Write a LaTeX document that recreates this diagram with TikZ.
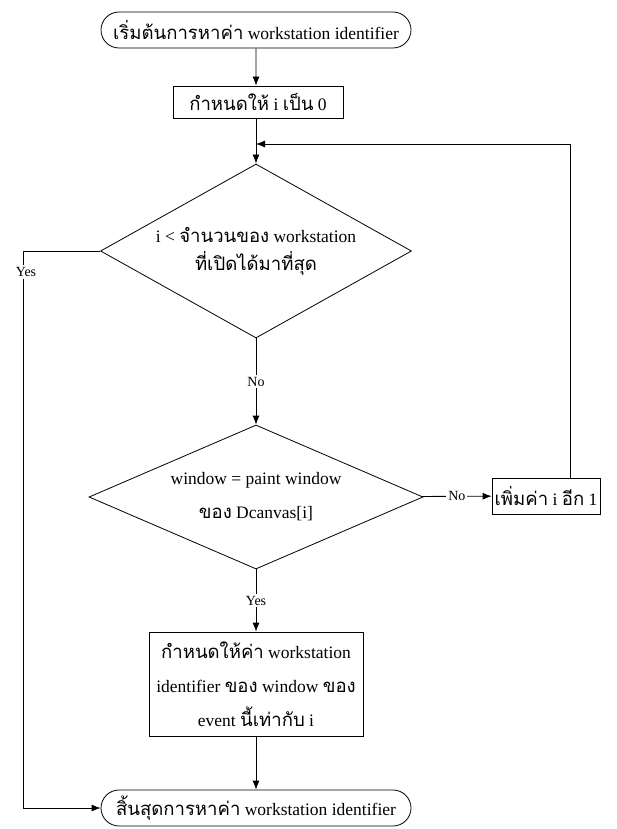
\documentclass[tikz,border=0pt]{standalone}
\usepackage{fontspec}
\setmainfont{Liberation Serif}
\newfontfamily\thaifont[Script=Thai,Scale=1.06]{Loma}
\newcommand{\thai}[1]{{\thaifont #1}}
\usetikzlibrary{arrows.meta,shapes.geometric,shapes.misc}

\tikzset{
  terminal/.style={draw, rounded rectangle, minimum width=310pt, minimum height=36pt, inner sep=0pt},
  process/.style={draw, rectangle, align=center, inner sep=0pt},
  decision/.style={draw, diamond, align=center, inner sep=0pt},
  flow/.style={-{Latex[length=9pt,width=7pt]}},
  lbl/.style={fill=white, font=\fontsize{14}{16}\selectfont, inner sep=2pt},
}

\begin{document}
\begin{tikzpicture}[x=1pt, y=-1pt, line width=0.8pt, font=\fontsize{17.5}{20}\selectfont]
  \useasboundingbox (0,0) rectangle (616,829);

  \node[terminal] (start) at (256,30) {\thai{เริ่มต้นการหาค่า} workstation identifier};
  \node[process, minimum width=170pt, minimum height=32pt] (init) at (258,102)
    {\thai{กำหนดให้} i \thai{เป็น} 0};
  \coordinate (merge) at (256,144);

  \node[decision, minimum width=311pt, minimum height=174pt, aspect=1.8,
        font=\fontsize{17.5}{28}\selectfont] (cond1) at (256,251)
    {i < \thai{จำนวนของ} workstation\\\thai{ที่เปิดได้มาที่สุด}};
  \node[decision, minimum width=334pt, minimum height=144pt, aspect=2.3,
        font=\fontsize{17.5}{34}\selectfont] (cond2) at (256,497)
    {window = paint window\\\thai{ของ} Dcanvas[i]};
  \node[process, minimum width=108pt, minimum height=36pt] (inc) at (546,496)
    {\thai{เพิ่มค่า} i \thai{อีก} 1};

  \node[process, minimum width=214pt, minimum height=104pt,
        font=\fontsize{17.5}{34}\selectfont] (assign) at (256,684)
    {\thai{กำหนดให้ค่า} workstation\\identifier \thai{ของ} window \thai{ของ}\\event \thai{นี้เท่ากับ} i};
  \node[terminal] (stop) at (256,808) {\thai{สิ้นสุดการหาค่า} workstation identifier};
  \coordinate (yesleft) at (23,251);

  % connectors
  \draw[flow] (start) -- (init.north -| start);
  \draw[flow] (merge |- init.south) -- (cond1);
  \draw[flow] ([xshift=24pt]inc.north) |- (merge);
  \draw[flow] (cond1) -- node[lbl] {No} (cond2);
  \draw[flow] (cond2) -- node[lbl] {No} (inc);
  \draw[flow] (cond2) -- node[lbl] {Yes} (assign);
  \draw[flow] (assign) -- (stop);
  \draw[flow] (cond1.west) -- (yesleft) |- (stop.west);
  \node[lbl] (yes1) at (26,272) {Yes};
\end{tikzpicture}
\end{document}
